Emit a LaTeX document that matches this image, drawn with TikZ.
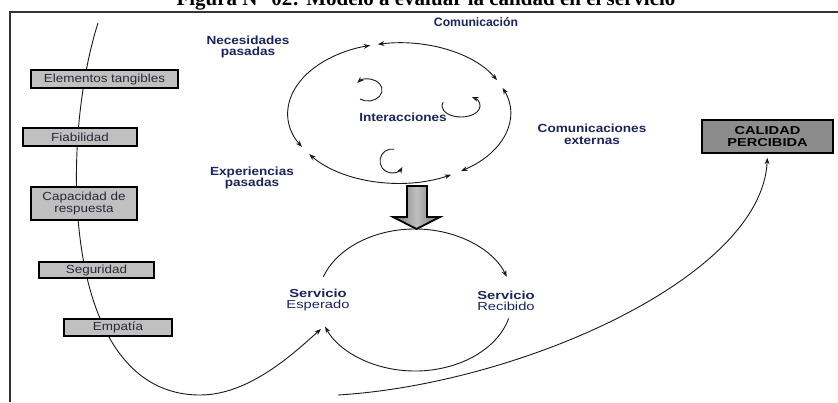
\documentclass[tikz,border=0pt]{standalone}
\usepackage{fontspec}
\setmainfont{Liberation Serif}
\setsansfont{Liberation Sans}
\newfontfamily\lblfont[FakeStretch=1.15]{Liberation Sans}
\newfontfamily\srvfont[FakeStretch=1.27]{Liberation Sans}
\usetikzlibrary{arrows.meta}
\definecolor{lblblue}{RGB}{28,36,88}
\definecolor{boxtext}{RGB}{40,40,58}
\definecolor{boxgray}{RGB}{192,192,192}
\definecolor{calgray}{RGB}{140,140,140}
\tikzset{
  flow/.style={line width=0.9pt, draw=black!90},
  factor/.style={draw, line width=1.2pt, fill=boxgray, inner sep=0pt, text=boxtext,
    align=center, font=\lblfont\fontsize{11.7}{12}\selectfont},
  lbl/.style={text=lblblue, align=center, font=\lblfont\bfseries\fontsize{11.8}{11.5}\selectfont},
  srv/.style={text=lblblue, align=center, font=\srvfont\fontsize{11.6}{11}\selectfont}
}
\begin{document}
\begin{tikzpicture}[x=1pt,y=1pt,>={Stealth[length=6.5pt,width=4.8pt]}]
\useasboundingbox (0,0) rectangle (838,402);
\node[font=\bfseries\fontsize{21}{24}\selectfont, anchor=base] (caption) at (426,396) {Figura N° 02: Modelo a evaluar la calidad en el servicio};
\draw[line width=2pt, black!80] (9.5,0) -- (9.5,390) -- (838,390);

\coordinate (big) at (399,289);
\coordinate (low) at (415,102);
\coordinate (lstart) at (98,379);
\coordinate (rstart) at (338,7);
\coordinate (espin) at (321,73);

\foreach \a/\b in {101/28, 21/-56, -62/-144, 209/105}
  \draw[flow,<->] ([shift={(\a:111pt and 70pt)}]big) arc[start angle=\a, end angle=\b, x radius=111pt, y radius=70pt];

\coordinate (loopa) at (368,312);
\coordinate (loopb) at (461,296);
\coordinate (loopc) at (392,241);
\draw[flow,->] ([shift={(-125:14pt and 11pt)}]loopa) arc[start angle=-125, end angle=140, x radius=14pt, y radius=11pt];
\draw[flow,->] ([shift={(160:19pt and 11pt)}]loopb) arc[start angle=160, end angle=415, x radius=19pt, y radius=11pt];
\draw[flow,->] ([shift={(80:12pt and 12pt)}]loopc) arc[start angle=80, end angle=330, x radius=12pt, y radius=12pt];

\draw[line width=1.8pt, line join=miter, left color=black!55, right color=black!55, middle color=black!25]
  (407,216) -- (407,185) -- (393,185) -- (416.5,173) -- (440,185) -- (427,185) -- (427,216) -- cycle;

\draw[flow,->] ([shift={(161:97pt and 71pt)}]low) arc[start angle=161, end angle=19, x radius=97pt, y radius=71pt];
\draw[flow,->] ([shift={(-15:97pt and 71pt)}]low) arc[start angle=-15, end angle=-158, x radius=97pt, y radius=71pt];

\draw[flow,->] (lstart) .. controls (60,260) and (60,7) .. (200,7) .. controls (250,7) and (295,50) .. (espin);

\node[factor, minimum width=147pt, minimum height=18pt] (tang) at (104.5,323) {Elementos tangibles};
\node[factor, minimum width=114pt, minimum height=18pt] (fiab) at (80,265) {Fiabilidad};
\node[factor, minimum width=106pt, minimum height=33pt] (capac) at (84,198.5) {Capacidad de\\respuesta};
\node[factor, minimum width=115pt, minimum height=16pt] (segur) at (96.5,132) {Seguridad};
\node[factor, minimum width=108pt, minimum height=17pt] (empat) at (118,74.5) {Empatía};

\node[draw, line width=1.5pt, fill=calgray, inner sep=0pt, minimum width=131pt, minimum height=33pt,
  align=center, font=\srvfont\bfseries\fontsize{11.5}{12}\selectfont] (cal) at (767.5,265.5) {CALIDAD\\PERCIBIDA};
\draw[flow,->, shorten >=4pt] (rstart) .. controls (520,18) and (762,125) .. (cal.south);

\node[text=lblblue, font=\sffamily\bfseries\fontsize{12.2}{13}\selectfont] (comun) at (476,380) {Comunicación};
\node[lbl] (necpas) at (248,355) {Necesidades\\pasadas};
\node[lbl] (inter) at (403,285) {Interacciones};
\node[lbl] (exppas) at (252,224) {Experiencias\\pasadas};
\node[lbl, font=\lblfont\bfseries\fontsize{11.8}{12}\selectfont] (comext) at (592,268) {Comunicaciones\\externas};
\node[srv] (srvesp) at (318,101.5) {\textbf{Servicio}\\Esperado};
\node[srv] (srvrec) at (506,101.5) {\textbf{Servicio}\\Recibido};
\end{tikzpicture}
\end{document}
